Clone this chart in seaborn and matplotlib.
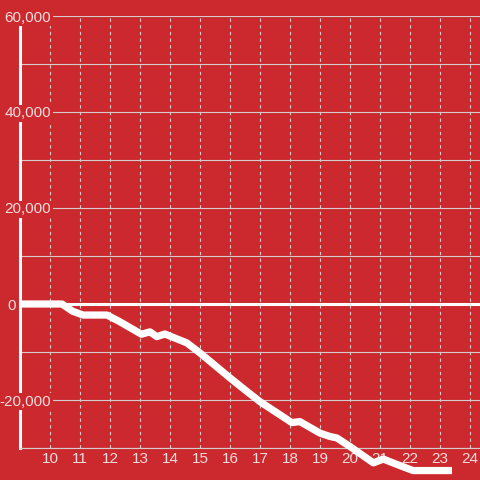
import matplotlib
matplotlib.use("Agg")
import matplotlib.pyplot as plt
import seaborn as sns
import pandas as pd

# data
hours = [9.0, 10.4, 10.75, 11.1, 11.9, 12.3, 13.05, 13.33, 13.56, 13.83, 14.56,
         15.0, 16.0, 16.56, 17.0, 18.06, 18.33, 19.0, 19.33, 19.56, 20.0,
         20.78, 21.11, 21.43, 22.1, 23.4]
values = [0, 0, -1500, -2300, -2300, -3600, -6300, -5800, -6800, -6250, -8100,
          -10200, -15400, -18200, -20350, -24700, -24500, -26900, -27600, -27900, -29700,
          -33100, -32300, -33100, -34700, -34700]
x_ticks = list(range(10, 25))
y_ticks = [-20000, 0, 20000, 40000, 60000]
y_tick_labels = ["-20,000", "0", "20,000", "40,000", "60,000"]
y_grid = [-30000, -20000, -10000, 0, 10000, 20000, 30000, 40000, 50000, 60000]

BG = "#cc292e"
TXT = "#f3dddd"
GRID = "#d4cccc"

sns.set_theme(style="white")
plt.rcParams['font.family'] = ['Liberation Sans', 'DejaVu Sans']

fig = plt.figure(figsize=(4.8, 4.8), dpi=100, facecolor=BG)
ax = fig.add_axes([20/480, 32/480, 460/480, 432/480])
ax.set_facecolor(BG)
ax.set_axisbelow(False)

df = pd.DataFrame({"hour": hours, "value": values})

ax.set_xlim(9.0, 9.0 + 460/30)
ax.set_ylim(-30000, 60000)

for g in y_grid:
    if g == 0:
        continue
    ax.axhline(g, color=GRID, lw=0.8, zorder=1)
for xt in x_ticks:
    ax.axvline(xt, color=GRID, lw=0.8, linestyle=(0, (3, 3)), zorder=1)

ax.axhline(0, color="white", lw=2.2, zorder=1.2)

sns.lineplot(data=df, x="hour", y="value", ax=ax, color="white", lw=5.2,
             zorder=5, clip_on=False)
for ln in ax.get_lines()[-1:]:
    ln.set_solid_joinstyle("round")
    ln.set_solid_capstyle("butt")

ax.set_xlabel("")
ax.set_ylabel("")
ax.set_xticks(x_ticks)
ax.set_xticklabels([str(v) for v in x_ticks])
ax.set_yticks(y_ticks)
ax.set_yticklabels(y_tick_labels)
ax.tick_params(axis='x', length=0, pad=3, labelsize=11, colors=TXT)
ax.tick_params(axis='y', length=0, pad=-22.5, labelsize=11, colors=TXT)
ax.xaxis.set_zorder(2.6)
ax.yaxis.set_zorder(2.6)
for lab in ax.get_yticklabels():
    lab.set_bbox(dict(facecolor=BG, edgecolor='none', pad=1.0))
for tk, lbl in zip(ax.yaxis.get_major_ticks(), y_tick_labels):
    if lbl == "0":
        tk.set_pad(3)

for s in ["top", "right"]:
    ax.spines[s].set_visible(False)
ax.spines["left"].set_color("white")
ax.spines["left"].set_linewidth(2.2)
ax.spines["left"].set_zorder(2)
ax.spines["bottom"].set_color(GRID)
ax.spines["bottom"].set_linewidth(0.8)
ax.spines["bottom"].set_zorder(2)

fig.savefig("out.png", dpi=100, facecolor=BG)
